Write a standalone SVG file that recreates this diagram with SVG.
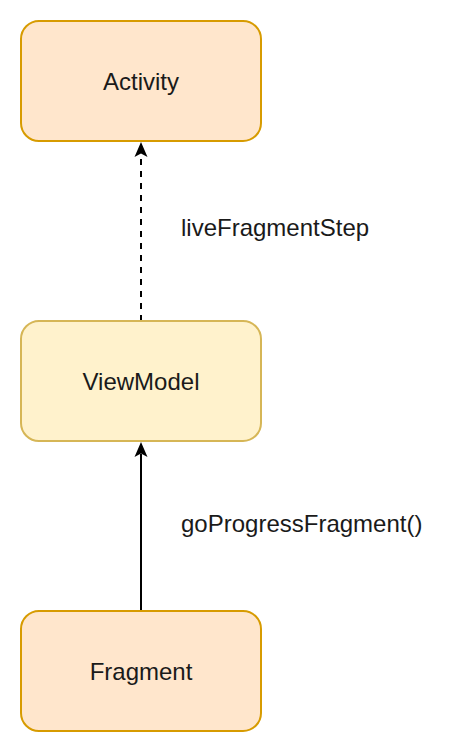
<svg xmlns="http://www.w3.org/2000/svg" width="462" height="752" viewBox="0 0 462 752">
<style>
.box{stroke-width:2}
.orange{fill:#ffe6cc;stroke:#d79b00}
.yellow{fill:#fff2cc;stroke:#d6b656}
text{font-family:"Liberation Sans",Arial,Helvetica,sans-serif;font-size:24px;fill:#1a1a1a}
.c{text-anchor:middle}
.edge{stroke:#000;stroke-width:2;fill:none}
.dash{stroke-dasharray:6 6}
</style>
<defs>
<marker id="arrow" markerUnits="userSpaceOnUse" markerWidth="14" markerHeight="16" viewBox="0 0 14 16" refX="7" refY="0" orient="auto-start-reverse">
<path d="M7,0 L13.5,15 L7,11.5 L0.5,15 Z" fill="#000"/>
</marker>
</defs>
<rect width="462" height="752" fill="#fff"/>
<g id="connectors">
<path class="edge dash" d="M141,321 L141,154"/>
<path d="M141,142 L147.5,157 L141,153.5 L134.5,157 Z" fill="#000"/>
<path class="edge" d="M141,611 L141,454"/>
<path d="M141,442 L147.5,457 L141,453.5 L134.5,457 Z" fill="#000"/>
<text x="181" y="236">liveFragmentStep</text>
<text x="181" y="532">goProgressFragment()</text>
</g>
<g id="activity">
<rect class="box orange" x="21" y="21" width="240" height="120" rx="18" ry="18"/>
<text class="c" x="141" y="89.5">Activity</text>
</g>
<g id="viewmodel">
<rect class="box yellow" x="21" y="321" width="240" height="120" rx="18" ry="18"/>
<text class="c" x="141" y="389.5">ViewModel</text>
</g>
<g id="fragment">
<rect class="box orange" x="21" y="611" width="240" height="120" rx="18" ry="18"/>
<text class="c" x="141" y="679.5">Fragment</text>
</g>
</svg>
